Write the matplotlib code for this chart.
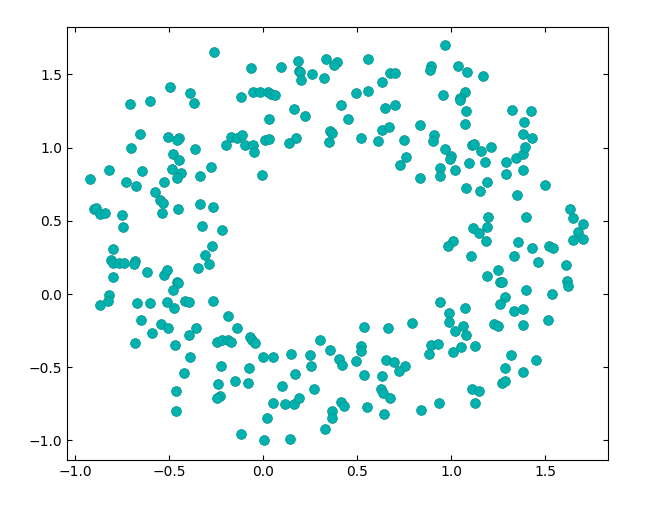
import numpy as np
import matplotlib.pyplot as plt

# point coordinates (x, y)
x_vals = [
    -0.261, -0.495, -0.388, -0.601, -0.707, -0.367, -0.117, -0.654, -0.505, -0.445,
    -0.459, -0.172, -0.140, -0.110,
    -0.064, 0.096, 0.185, 0.191, 0.194, 0.202, 0.263, 0.335, 0.392, 0.378,
    0.324, 0.559, 0.676, 0.704, 0.633, -0.055, -0.016, 0.025, 0.043, 0.066,
    0.165, 0.223, 0.032, 0.415, 0.495, 0.559, 0.452, 0.649, 0.704, 0.835,
    0.356, 0.369, 0.631, 0.670,
    0.968, 0.892, 0.888, 1.036, 1.084, 1.172, 0.956, 1.074, 1.048, 1.048,
    1.080, 1.324, 1.426, 1.077, 1.388, 0.910, 0.903, 1.381, 1.429,
    -0.702, -0.362, -0.197, -0.096, -0.480, -0.447, -0.821, -0.644, -0.486, -0.436,
    -0.457, -0.278, -0.335, -0.920, -0.729, -0.676, -0.527, -0.574, -0.548, -0.530,
    -0.537, -0.452, -0.335, -0.268, -0.902, -0.888, -0.867, -0.840, -0.750, -0.745,
    -0.326, -0.220,
    -0.051, -0.048, 0.011, 0.029, 0.138, 0.176, 0.351, 0.521, 0.612, 0.750,
    0.761, 0.729, 0.835, -0.005,
    0.968, 0.998, 0.995, 0.941, 0.941, 1.021, 1.096, 1.114, 1.124, 1.160,
    1.213, 1.181, 1.080, 1.154, 1.191, 1.293, 1.293, 1.346, 1.383, 1.394,
    1.383, 1.500, 1.351, 1.195, 1.119, 1.149, 1.191, 1.399, 1.633, 1.649,
    1.701, 1.674, 1.701, 1.647, 1.009, 1.186, 1.355,
    0.982, 1.429, 1.521, 1.541, 1.106, 1.335, 1.463, 1.612, 1.248, 1.191,
    1.261, 1.270, 1.617, 1.622, 1.397, 1.537, 1.287, 1.261, 0.941, 1.074,
    1.335, 1.383, 0.989, 0.989, 1.064, 1.227, 1.248, 1.383, 1.516, 1.021,
    1.080, 0.892, 0.931, 1.053, 1.128,
    0.885, 1.009, 1.319, 1.452, 1.287, 1.383, 1.271, 1.287, 1.112, 1.149,
    0.936, 1.128,
    -0.801, -0.271, -0.309, -0.287, -0.346, -0.809, -0.796, -0.766, -0.739, -0.681,
    -0.689, -0.801, -0.617, -0.527, -0.511, -0.457, -0.452, -0.479, -0.819, -0.824,
    -0.867, -0.670, -0.601, -0.511, -0.473, -0.415, -0.394, -0.266, -0.186, -0.138,
    -0.072, -0.059, -0.043, -0.647, -0.543, -0.505, -0.590, -0.356, -0.394, -0.681,
    -0.468, -0.245, -0.216, -0.186, -0.172,
    0.537, 0.667, 0.791, 0.303, 0.356, 0.521, 0.521,
    -0.076, -0.079, -0.002, 0.052, 0.149, 0.250, 0.255, 0.404, 0.420, 0.493,
    0.537, 0.170, 0.099, 0.270, 0.052, 0.117, 0.162, 0.191, 0.020, 0.005,
    0.144, 0.330, 0.367, 0.367, 0.415, 0.431, 0.553, 0.644, 0.631, 0.626,
    0.638, 0.676, 0.654, 0.699, 0.757, 0.723, 0.839,
    -0.388, -0.422, -0.463, -0.463, -0.225, -0.241, -0.149, -0.229, -0.245, -0.117,
]
y_vals = [
    1.651, 1.412, 1.371, 1.318, 1.296, 1.303, 1.344, 1.093, 1.072, 1.064,
    1.052, 1.076, 1.064, 1.086,
    1.542, 1.549, 1.592, 1.523, 1.516, 1.460, 1.501, 1.603, 1.585, 1.562,
    1.475, 1.603, 1.510, 1.510, 1.448, 1.380, 1.380, 1.378, 1.364, 1.357,
    1.264, 1.214, 1.193, 1.289, 1.371, 1.387, 1.193, 1.270, 1.289, 1.152,
    1.113, 1.100, 1.118, 1.141,
    1.699, 1.555, 1.528, 1.555, 1.514, 1.487, 1.357, 1.380, 1.339, 1.323,
    1.250, 1.257, 1.250, 1.161, 1.173, 1.086, 1.045, 1.093, 1.064,
    0.995, 0.990, 1.018, 1.018, 0.956, 0.915, 0.847, 0.840, 0.854, 0.824,
    0.790, 0.865, 0.806, 0.786, 0.765, 0.738, 0.765, 0.695, 0.640, 0.620,
    0.551, 0.581, 0.613, 0.594, 0.581, 0.589, 0.544, 0.551, 0.538, 0.458,
    0.464, 0.435,
    1.018, 0.968, 1.052, 1.059, 1.029, 1.064, 1.036, 1.068, 1.045, 1.052,
    0.934, 0.881, 0.790, 0.811,
    0.990, 0.943, 0.920, 0.863, 0.804, 0.847, 0.895, 1.018, 1.023, 0.977,
    1.002, 0.900, 0.724, 0.702, 0.763, 0.900, 0.818, 0.927, 0.954, 1.002,
    0.847, 0.745, 0.676, 0.526, 0.449, 0.415, 0.458, 0.526, 0.581, 0.519,
    0.476, 0.421, 0.376, 0.367, 0.362, 0.362, 0.353,
    0.326, 0.314, 0.326, 0.314, 0.258, 0.258, 0.217, 0.196, 0.162, 0.121,
    0.082, 0.080, 0.091, 0.053, 0.025, -0.002, -0.023, -0.070, -0.057, -0.098,
    -0.118, -0.105, -0.130, -0.193, -0.221, -0.205, -0.219, -0.214, -0.180, -0.255,
    -0.282, -0.346, -0.342, -0.364, -0.357,
    -0.408, -0.396, -0.417, -0.451, -0.508, -0.535, -0.606, -0.594, -0.651, -0.665,
    -0.747, -0.747,
    0.307, 0.326, 0.264, 0.203, 0.176, 0.230, 0.212, 0.210, 0.210, 0.227,
    0.205, 0.114, 0.148, 0.128, 0.162, 0.082, 0.073, 0.025, -0.009, -0.050,
    -0.077, -0.064, -0.064, -0.057, -0.098, -0.050, -0.057, -0.050, -0.152, -0.234,
    -0.296, -0.316, -0.335, -0.180, -0.205, -0.234, -0.266, -0.234, -0.282, -0.335,
    -0.350, -0.330, -0.312, -0.316, -0.328,
    -0.227, -0.234, -0.200, -0.316, -0.380, -0.353, -0.391,
    -0.505, -0.610, -0.430, -0.430, -0.412, -0.417, -0.492, -0.444, -0.485, -0.458,
    -0.555, -0.548, -0.630, -0.651, -0.747, -0.753, -0.753, -0.712, -0.849, -0.999,
    -0.992, -0.924, -0.801, -0.849, -0.740, -0.767, -0.774, -0.818, -0.562, -0.647,
    -0.678, -0.712, -0.453, -0.467, -0.494, -0.528, -0.794,
    -0.430, -0.542, -0.665, -0.801, -0.494, -0.617, -0.596, -0.699, -0.712, -0.958,
]

x_ticks = [-1.0, -0.5, 0.0, 0.5, 1.0, 1.5]
y_ticks = [-1.0, -0.5, 0.0, 0.5, 1.0, 1.5]

fig = plt.figure(figsize=(6.62, 5.05), dpi=100)
ax = fig.add_axes([0.101, 0.089, 0.817, 0.8575])

ax.scatter(x_vals, y_vals, s=50, c="#00b2ae", edgecolors="#0a8f8a", linewidths=0.5)

ax.set_xlim(-1.044, 1.834)
ax.set_ylim(-1.134, 1.824)
ax.set_xticks(x_ticks)
ax.set_yticks(y_ticks)
ax.tick_params(direction="in", top=True, right=True)

fig.savefig("out.png", dpi=100)
